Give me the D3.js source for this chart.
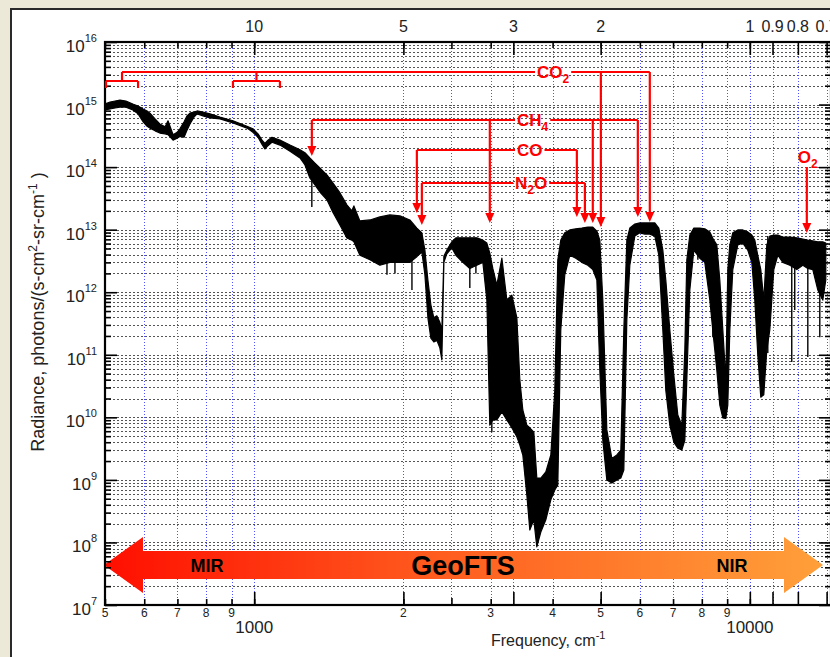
<!DOCTYPE html>
<html>
<head>
<meta charset="utf-8">
<script src="https://cdn.jsdelivr.net/npm/d3@7"></script>
<style>
body { margin: 0; background: #ece9d8; }
svg { display: block; font-family: "Liberation Sans", Arial, sans-serif; }
</style>
</head>
<body>
<svg id="chart" width="830" height="657"></svg>
<script>
// spectrum envelope: frequency (cm-1), top and bottom of the trace
const freq = [500,512,524,536,551,569,583,597,608,616,631,645,661,670,686,699,708,722,732,742,756,767,788,814,853,906,967,994,1018,1037,1051,1066,1086,1127,1181,1237,1266,1295,1326,1357,1402,1441,1489,1538,1574,1589,1634,1712,1793,1878,1968,2061,2129,2179,2210,2241,2272,2304,2336,2369,2391,2414,2447,2505,2552,2636,2723,2813,2893,2947,2988,3030,3087,3160,3234,3310,3388,3435,3483,3549,3598,3666,3717,3787,3876,3967,4041,4098,4155,4233,4333,4455,4581,4711,4821,4913,4981,5051,5146,5267,5391,5492,5569,5647,5726,5861,5999,6139,6283,6431,6552,6675,6768,6895,7025,7156,7291,7393,7462,7567,7709,7926,8112,8303,8459,8578,8698,8820,8944,9027,9112,9239,9456,9679,9906,10092,10233,10377,10522,10670,10820,10972,11178,11388,11655,12041,12439,12790,13091,13398,13712,14035,14232];
const upper = [1.02e15,1.10e15,1.14e15,1.18e15,1.14e15,1.02e15,9.5e14,8.5e14,7.9e14,7.3e14,5.9e14,4.9e14,4.4e14,5.5e14,3.3e14,3.6e14,4.1e14,5.3e14,6.6e14,7.3e14,7.6e14,7.9e14,7.6e14,7.1e14,6.3e14,5.5e14,4.5e14,4.1e14,3.4e14,2.7e14,2.4e14,2.7e14,3.0e14,2.7e14,2.25e14,1.9e14,1.7e14,1.4e14,1.16e14,9.7e13,7.5e13,5.6e13,3.9e13,2.5e13,2.0e13,2.4e13,1.38e13,1.43e13,1.6e13,1.72e13,1.66e13,1.43e13,1.06e13,8.9e12,4.7e12,1.57e12,6.3e11,3.9e11,4.2e11,3.3e11,2.5e11,3.8e12,4.7e12,6.4e12,7.4e12,7.4e12,7.4e12,7.4e12,6.8e12,6.1e12,4.2e12,2.4e12,1.3e12,3.5e12,7.5e11,9.0e11,3.9e11,4.0e10,1.31e10,7.5e9,6.8e9,5.8e9,1.07e9,1.07e9,1.34e9,2.5e9,2.7e10,3.3e12,6.8e12,8.9e12,9.9e12,1.03e13,1.06e13,1.1e13,1.1e13,9.5e12,6.8e12,7.5e11,6.3e9,2.2e9,2.5e9,3.0e9,2.5e11,6.8e12,1.06e13,1.23e13,1.28e13,1.28e13,1.28e13,1.28e13,1.06e13,4.7e12,1.57e12,2.5e11,4.75e10,1.09e10,7.5e9,1.19e11,3.3e12,8.2e12,1.06e13,1.06e13,1.03e13,9.2e12,6.8e12,5.7e12,1.57e12,2.5e11,4.0e10,2.3e12,5.7e12,8.9e12,9.9e12,9.9e12,9.2e12,8.2e12,6.8e12,3.9e12,2.3e12,7.5e11,5.7e12,7.9e12,8.2e12,8.2e12,7.6e12,7.6e12,7.4e12,7.1e12,6.8e12,6.6e12,6.4e12,6.4e12,6.1e12];
const lower = [8.2e14,8.5e14,8.8e14,9.1e14,9.1e14,8.2e14,7.1e14,5.3e14,4.5e14,4.2e14,3.8e14,3.5e14,3.4e14,3.3e14,2.7e14,2.9e14,3.1e14,3.0e14,3.9e14,4.9e14,6.3e14,7.1e14,6.6e14,6.1e14,5.9e14,5.1e14,4.2e14,3.6e14,3.0e14,2.3e14,1.95e14,2.2e14,2.5e14,2.25e14,1.8e14,1.4e14,1.08e14,6.7e13,5.2e13,4.0e13,3.0e13,1.9e13,1.19e13,7.4e12,6.8e12,6.4e12,3.9e12,3.3e12,2.7e12,3.0e12,3.0e12,3.0e12,3.7e12,4.4e12,1.9e12,3.9e11,1.85e11,1.6e11,1.7e11,1.29e11,8.3e10,3.0e12,4.1e12,5.1e12,3.9e12,3.0e12,2.4e12,2.7e12,3.0e12,7.5e11,7.5e9,9.1e9,9.1e9,1.22e10,9.1e9,6.8e9,4.9e9,3.6e9,2.5e9,5.7e8,1.58e8,2.3e8,8.5e7,1.47e8,2.3e8,4.8e8,6.9e8,8.3e8,2.5e11,1.9e12,3.9e12,3.5e12,3.0e12,2.7e12,2.3e12,1.57e12,5.7e10,4.3e9,1.0e9,8.9e8,1.0e9,1.07e9,1.44e9,3.6e11,2.7e12,7.9e12,8.9e12,8.5e12,8.5e12,7.9e12,3.9e12,2.5e11,2.7e10,7.5e9,4.0e9,3.2e9,3.0e9,4.3e9,4.0e10,1.09e12,4.7e12,3.5e12,3.0e12,7.5e11,1.7e11,5.7e10,1.57e10,9.8e9,9.6e9,1.57e10,2.5e11,2.3e12,5.7e12,6.1e12,4.7e12,3.0e12,7.5e11,9.9e10,2.1e10,2.3e10,1.19e11,2.5e11,2.3e12,3.9e12,3.0e12,2.7e12,2.3e12,2.7e12,2.4e12,2.3e12,1.09e12,7.5e11,1.57e12];

// single narrow lines dipping below the trace
const lineFreq = [1307, 1853, 1923, 2081, 2723, 2801, 3016, 7855, 8420, 10870, 12150, 12320, 13091, 13840];
const lineMin = [2.3e13, 1.9e12, 2.0e12, 1.09e12, 1.17e12, 2.0e12, 5.8e9, 3.3e12, 1.9e11, 1.07e11, 7.7e10, 5.2e11, 9.2e10, 1.9e11];

// axis ticks
const freqTicks = [500, 600, 700, 800, 900, 1000, 2000, 3000, 4000, 5000, 6000, 7000, 8000, 9000, 10000];
const freqTickLabels = ["5", "6", "7", "8", "9", "", "2", "3", "4", "5", "6", "7", "8", "9", ""];
const freqDecades = [1000, 10000];
const waveMajor = [10, 5, 3, 2, 1, 0.9, 0.8, 0.7]; // microns
const waveMinor = [4];
const radDecades = [1e7, 1e8, 1e9, 1e10, 1e11, 1e12, 1e13, 1e14, 1e15, 1e16];

// gas band markers (cm-1)
const co2Bands = [5005, 6283];
const co2Windows = [[492, 583], [906, 1127]];
const ch4Bands = [1307, 2988, 4821, 5943];
const coBands = [2129, 4477];
const n2oBands = [2179, 4647];
const o2Bands = [13030];

const svg = d3.select("#chart");
const defs = svg.append("defs");

const x = d3.scaleLog().domain([500, 14580]).range([105, 831]);
const y = d3.scaleLog().domain([1e7, 1e16]).range([605, 42]);
const crisp = v => Math.round(v) + 0.5;
const wn = um => 1e4 / um;

// white panel with dark border
svg.append("rect").attr("x", 11).attr("y", 9).attr("width", 840).attr("height", 670)
    .attr("fill", "#fff").attr("stroke", "#2a2a2a").attr("stroke-width", 2);

defs.append("clipPath").attr("id", "plot")
    .append("rect").attr("x", 105).attr("y", 42).attr("width", 726).attr("height", 563);

// grid
svg.append("g").selectAll("line").data(y.ticks())
    .join("line")
    .attr("x1", 105).attr("x2", 831)
    .attr("y1", d => crisp(y(d))).attr("y2", d => crisp(y(d)))
    .attr("stroke", "#555").attr("stroke-dasharray", "2,2").attr("shape-rendering", "crispEdges");

const vGrid = freqTicks.slice(1).concat(waveMajor.map(wn), waveMinor.map(wn));
svg.append("g").selectAll("line").data(vGrid)
    .join("line")
    .attr("x1", d => crisp(x(d))).attr("x2", d => crisp(x(d)))
    .attr("y1", 42).attr("y2", 605)
    .attr("stroke", "#5050ff").attr("stroke-dasharray", "1,2").attr("shape-rendering", "crispEdges");

// spectrum
const spec = freq.map((f, i) => ({ f: f, hi: upper[i], lo: lower[i] }));
const area = d3.area().x(d => x(d.f)).y0(d => y(d.lo)).y1(d => y(d.hi));
const plot = svg.append("g").attr("clip-path", "url(#plot)");
plot.append("path").datum(spec).attr("d", area)
    .attr("fill", "#000").attr("stroke", "#000").attr("stroke-width", 1.2).attr("stroke-linejoin", "round");

const bis = d3.bisector(d => d).left;
plot.append("g").selectAll("line").data(lineFreq.map((f, i) => ({ f: f, v: lineMin[i] })))
    .join("line")
    .attr("x1", d => x(d.f)).attr("x2", d => x(d.f))
    .attr("y1", d => y(upper[Math.min(bis(freq, d.f), freq.length - 1)]))
    .attr("y2", d => y(d.v))
    .attr("stroke", "#000").attr("stroke-width", 1.4);

// MIR / NIR band arrow
const grad = defs.append("linearGradient").attr("id", "band")
    .attr("gradientUnits", "userSpaceOnUse").attr("x1", 104).attr("x2", 823).attr("y1", 0).attr("y2", 0);
grad.append("stop").attr("offset", 0).attr("stop-color", "#ff0e00");
grad.append("stop").attr("offset", 0.45).attr("stop-color", "#ff5a1e");
grad.append("stop").attr("offset", 1).attr("stop-color", "#ffa03a");

const ay = 565, aL = 104, aR = 823, head = 39, hh = 28, sh = 14;
const arrowPts = [[aL, ay], [aL + head, ay - hh], [aL + head, ay - sh], [aR - head, ay - sh], [aR - head, ay - hh],
    [aR, ay], [aR - head, ay + hh], [aR - head, ay + sh], [aL + head, ay + sh], [aL + head, ay + hh]];
svg.append("polygon").attr("points", arrowPts.map(p => p.join(",")).join(" ")).attr("fill", "url(#band)");

svg.append("text").attr("x", 207).attr("y", 572).attr("text-anchor", "middle")
    .attr("font-size", 18).attr("font-weight", "bold").text("MIR");
svg.append("text").attr("x", 463).attr("y", 575).attr("text-anchor", "middle")
    .attr("font-size", 27).attr("font-weight", "bold").text("GeoFTS");
svg.append("text").attr("x", 732).attr("y", 572).attr("text-anchor", "middle")
    .attr("font-size", 18).attr("font-weight", "bold").text("NIR");

// axes: ticks only, the frame is drawn after
function ticks(axis, tr) {
    const g = svg.append("g").attr("transform", tr).call(axis);
    g.select(".domain").remove();
    g.selectAll("text").remove();
    g.selectAll("line").attr("stroke", "#000").attr("stroke-width", 1.6);
    return g;
}
const minorY = y.ticks().filter(d => radDecades.indexOf(d) < 0);
ticks(d3.axisLeft(y).tickValues(radDecades).tickSize(-12), "translate(105,0)");
ticks(d3.axisLeft(y).tickValues(minorY).tickSize(-6), "translate(105,0)");
ticks(d3.axisRight(y).tickValues(radDecades).tickSize(-12), "translate(831,0)");
ticks(d3.axisRight(y).tickValues(minorY).tickSize(-6), "translate(831,0)");

ticks(d3.axisBottom(x).tickValues(freqTicks).tickSize(-6), "translate(0,605)");
ticks(d3.axisBottom(x).tickValues(waveMajor.map(wn)).tickSize(-13), "translate(0,605)");
ticks(d3.axisBottom(x).tickValues(waveMinor.map(wn)).tickSize(-7), "translate(0,605)");
ticks(d3.axisTop(x).tickValues(freqTicks).tickSize(-6), "translate(0,42)");
ticks(d3.axisTop(x).tickValues(waveMajor.map(wn)).tickSize(-13), "translate(0,42)");
ticks(d3.axisTop(x).tickValues(waveMinor.map(wn)).tickSize(-7), "translate(0,42)");

svg.append("rect").attr("x", 105).attr("y", 42).attr("width", 726).attr("height", 563)
    .attr("fill", "none").attr("stroke", "#000").attr("stroke-width", 2.2);

// tick labels
svg.append("g").selectAll("text").data(freqTicks)
    .join("text")
    .attr("x", d => x(d)).attr("y", 617).attr("text-anchor", "middle").attr("font-size", 12).attr("fill", "#222")
    .text((d, i) => freqTickLabels[i]);
svg.append("g").selectAll("text").data(freqDecades)
    .join("text")
    .attr("x", d => x(d)).attr("y", 633).attr("text-anchor", "middle").attr("font-size", 17).attr("fill", "#222")
    .text(d => d);
svg.append("g").selectAll("text").data(waveMajor)
    .join("text")
    .attr("x", d => x(wn(d))).attr("y", 32).attr("text-anchor", "middle").attr("font-size", 16).attr("fill", "#222")
    .text(d => d);
svg.append("g").selectAll("text").data(radDecades)
    .join("text")
    .attr("x", 97).attr("y", d => y(d) + 10).attr("text-anchor", "end").attr("font-size", 17).attr("fill", "#222")
    .each(function (d) {
        const t = d3.select(this);
        t.append("tspan").text("10");
        t.append("tspan").attr("font-size", 11).attr("dy", -10).text(Math.round(Math.log10(d)));
    });

// axis titles
const xt = svg.append("text").attr("x", 491).attr("y", 646).attr("font-size", 16).attr("fill", "#222");
xt.append("tspan").text("Frequency, cm");
xt.append("tspan").attr("font-size", 11).attr("dy", -7).text("-1");

const yt = svg.append("text").attr("transform", "translate(44,312) rotate(-90)")
    .attr("text-anchor", "middle").attr("font-size", 18).attr("fill", "#222");
yt.append("tspan").text("Radiance, photons/(s-cm");
yt.append("tspan").attr("font-size", 12).attr("dy", -7).text("2");
yt.append("tspan").attr("dy", 7).text("-sr-cm");
yt.append("tspan").attr("font-size", 12).attr("dy", -7).text("-1");
yt.append("tspan").attr("dy", 7).text(" )");

// gas annotations
const red = "#ff0000";
const ann = svg.append("g");
function arrowDown(ax, y0, tip) {
    ann.append("line").attr("x1", ax).attr("x2", ax).attr("y1", y0).attr("y2", tip - 8)
        .attr("stroke", red).attr("stroke-width", 2.2);
    ann.append("polygon").attr("points", [[ax - 4.5, tip - 10], [ax + 4.5, tip - 10], [ax, tip]].map(p => p.join(",")).join(" "))
        .attr("fill", red);
}
function label(tx, ty, parts) {
    const t = ann.append("text").attr("x", tx).attr("y", ty).attr("font-size", 17).attr("font-weight", "bold").attr("fill", red);
    t.append("tspan").text(parts[0]);
    if (parts[1]) t.append("tspan").attr("font-size", 12).attr("dy", 5).text(parts[1]);
    if (parts[2]) t.append("tspan").attr("dy", -5).text(parts[2]);
    return t.node().getComputedTextLength();
}
function hline(x1, x2, yy) {
    ann.append("line").attr("x1", x1).attr("x2", x2).attr("y1", yy).attr("y2", yy)
        .attr("stroke", red).attr("stroke-width", 2.2);
}

const rows = [
    { parts: ["CO", "2", ""], bands: co2Bands, row: 72, textX: 537, tips: [227, 222] },
    { parts: ["CH", "4", ""], bands: ch4Bands, row: 120, textX: 517, tips: [156, 223, 223, 217] },
    { parts: ["CO", "", ""], bands: coBands, row: 150, textX: 517, tips: [213, 217] },
    { parts: ["N", "2", "O"], bands: n2oBands, row: 183, textX: 515, tips: [225, 223] }
];

// CO2 window brackets
const brY = 81;
const brMids = co2Windows.map(w => {
    const a = Math.max(x(w[0]), 106), b = x(w[1]);
    hline(a, b, brY);
    [a, b].forEach(e => ann.append("line").attr("x1", e).attr("x2", e).attr("y1", brY).attr("y2", brY + 7)
        .attr("stroke", red).attr("stroke-width", 2.2));
    const m = (a + b) / 2;
    ann.append("line").attr("x1", m).attr("x2", m).attr("y1", brY).attr("y2", rows[0].row)
        .attr("stroke", red).attr("stroke-width", 2.2);
    return m;
});

rows.forEach((r, k) => {
    const w = label(r.textX, r.row + 6, r.parts);
    const xs = r.bands.map(b => x(b));
    const left = k === 0 ? brMids[0] : d3.min(xs);
    hline(left, r.textX - 2, r.row);
    const rightXs = xs.filter(v => v > r.textX);
    if (rightXs.length) hline(r.textX + w + 2, d3.max(rightXs), r.row);
    xs.forEach((ax, i) => arrowDown(ax, r.row, r.tips[i]));
});

label(x(o2Bands[0]) - 9, 163, ["O", "2", ""]);
arrowDown(x(o2Bands[0]), 167, 233);
</script>
</body>
</html>
